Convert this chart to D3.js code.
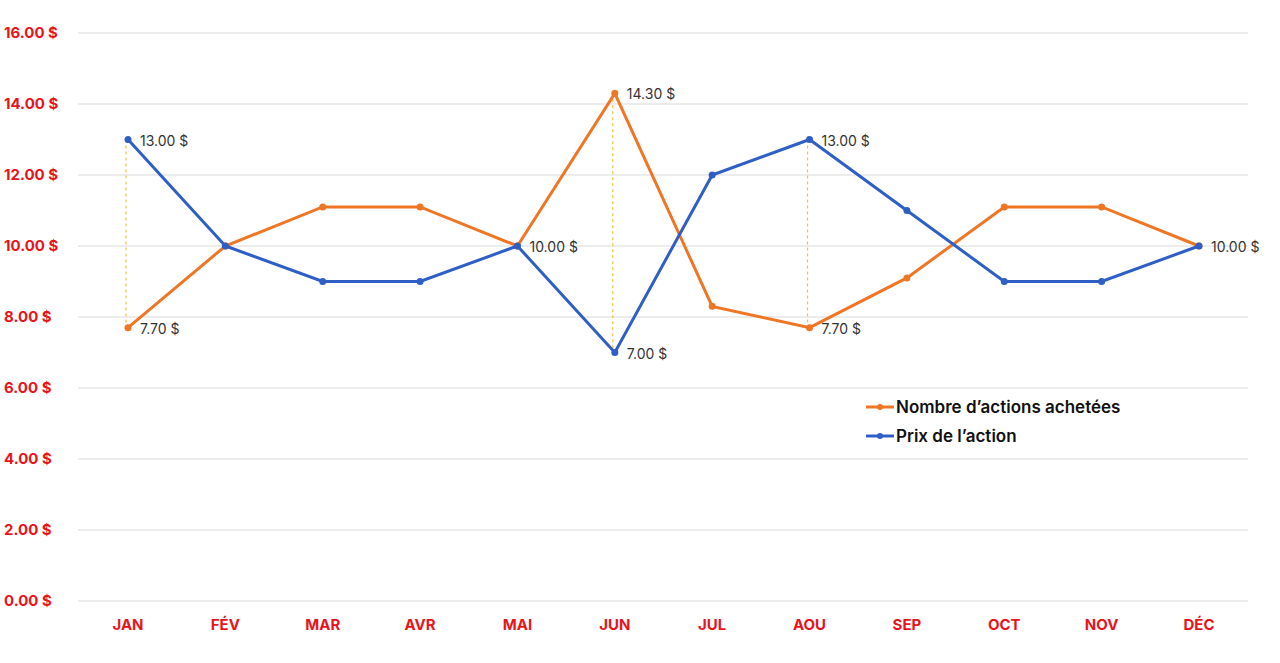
<!DOCTYPE html>
<html><head><meta charset="utf-8">
<script src="https://cdn.jsdelivr.net/npm/d3@7"></script>
<style>body{margin:0;background:#fff}svg{display:block}</style>
</head><body>
<svg id="svg" width="1280" height="663"></svg>
<script>
const months = ["JAN","FÉV","MAR","AVR","MAI","JUN","JUL","AOU","SEP","OCT","NOV","DÉC"];
const shares = [7.7,10,11.1,11.1,10,14.3,8.3,7.7,9.1,11.1,11.1,10];
const price = [13,10,9,9,10,7,12,13,11,9,9,10];
const yTicks = [0,2,4,6,8,10,12,14,16];
const labelsShares = {0:"7.70 $",5:"14.30 $",7:"7.70 $",11:"10.00 $"};
const labelsPrice = {0:"13.00 $",4:"10.00 $",5:"7.00 $",7:"13.00 $"};
const dropMonths = [0,5,7];

const svg = d3.select("#svg");
const x = d3.scalePoint().domain(months).range([128,1199]);
const y = d3.scaleLinear().domain([0,16]).range([601,33]);

// gridlines
svg.selectAll(".grid").data(yTicks).enter().append("line")
  .attr("x1",78).attr("x2",1248)
  .attr("y1",d=>y(d)).attr("y2",d=>y(d))
  .attr("stroke","#d9d9d9").attr("stroke-width",1.2);

svg.selectAll(".ylab").data(yTicks).enter().append("text")
  .attr("x",4).attr("y",d=>y(d)+5)
  .attr("fill","#e8141c").attr("font-family","Inter, sans-serif")
  .attr("font-weight",700).attr("font-size",15)
  .text(d=>d.toFixed(2)+" $");

svg.selectAll(".xlab").data(months).enter().append("text")
  .attr("x",d=>x(d)).attr("y",630).attr("text-anchor","middle")
  .attr("fill","#e8141c").attr("font-family","Inter, sans-serif")
  .attr("font-weight",700).attr("font-size",15)
  .text(d=>d);

// dashed drop lines
svg.selectAll(".drop").data(dropMonths).enter().append("line")
  .attr("x1",i=>x(months[i])-2).attr("x2",i=>x(months[i])-2)
  .attr("y1",i=>y(Math.max(shares[i],price[i])))
  .attr("y2",i=>y(Math.min(shares[i],price[i])))
  .attr("stroke","#f5c040").attr("stroke-width",1.2).attr("stroke-dasharray","3,3");

const line = d3.line().x((d,i)=>x(months[i])).y(d=>y(d));
const series = [{v:shares,c:"#ee7624",lab:labelsShares},{v:price,c:"#2f5ec4",lab:labelsPrice}];
series.forEach(s=>{
  svg.append("path").datum(s.v).attr("d",line)
    .attr("fill","none").attr("stroke",s.c).attr("stroke-width",3);
  svg.selectAll(null).data(s.v).enter().append("circle")
    .attr("cx",(d,i)=>x(months[i])).attr("cy",d=>y(d)).attr("r",3.5).attr("fill",s.c);
  Object.entries(s.lab).forEach(([i,t])=>{
    svg.append("text").attr("x",x(months[+i])+12).attr("y",y(s.v[+i])+6)
      .attr("font-family","Inter, sans-serif").attr("font-size",14).attr("fill","#333")
      .text(t);
  });
});

// legend
const leg = [{t:"Nombre d’actions achetées",c:"#ee7624"},{t:"Prix de l’action",c:"#2f5ec4"}];
leg.forEach((l,i)=>{
  const ly = 407+i*29;
  svg.append("line").attr("x1",866).attr("x2",894).attr("y1",ly).attr("y2",ly)
    .attr("stroke",l.c).attr("stroke-width",3);
  svg.append("circle").attr("cx",880).attr("cy",ly).attr("r",3).attr("fill",l.c);
  svg.append("text").attr("x",896).attr("y",ly+6)
    .attr("font-family","Inter, sans-serif").attr("font-weight",600).attr("font-size",17)
    .attr("fill","#111").text(l.t);
});
</script>
</body></html>
